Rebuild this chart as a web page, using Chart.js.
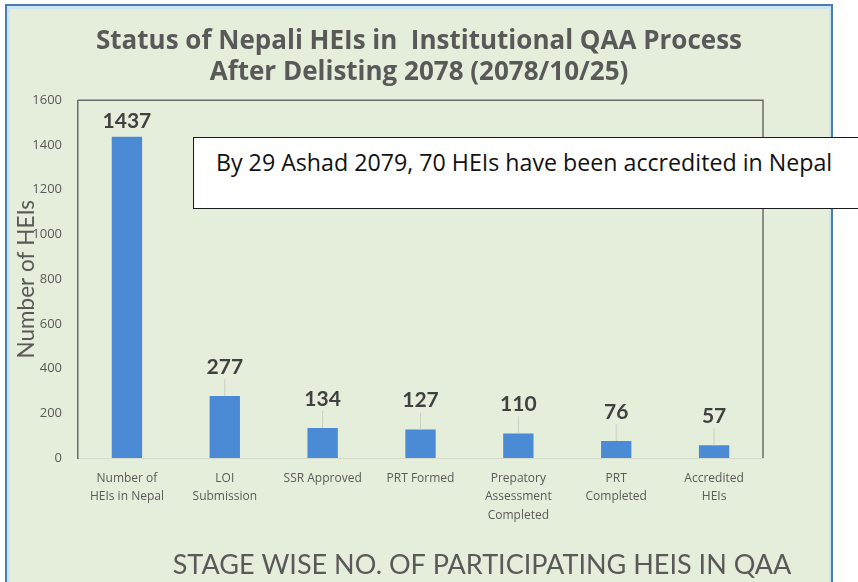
<!DOCTYPE html>
<html>
<head>
<meta charset="utf-8">
<script src="https://cdn.jsdelivr.net/npm/chart.js@4"></script>
<style>
  html, body { margin:0; padding:0; background:#ffffff; width:858px; height:582px; overflow:hidden; }
  #frame { position:absolute; left:5px; top:4px; width:824px; height:620px;
           border:2px solid #4a7db5; background:#e5eedb;
           box-shadow: inset 3px 3px 0 0 #cfe4f3, inset -2px 0 0 0 #cfe4f3; }
  #wrap { position:absolute; left:0; top:0; width:858px; height:582px; }
  #note { position:absolute; left:193px; top:137px; width:680px; height:72px;
          background:#ffffff; border:1.5px solid #1a1a1a; box-sizing:border-box;
          font-family:"Open Sans", Lato, sans-serif; font-size:23.2px; line-height:31px; color:#111;
          padding:9px 0 0 22px; white-space:nowrap; }
</style>
</head>
<body>
<div id="frame"></div>
<div id="wrap"><canvas id="c"></canvas></div>
<div id="note">By 29 Ashad 2079, 70 HEIs have been accredited in Nepal</div>
<script>
const categories = [
  ["Number of", "HEIs in Nepal"],
  ["LOI", "Submission"],
  "SSR Approved",
  "PRT Formed",
  ["Prepatory", "Assessment", "Completed"],
  ["PRT", "Completed"],
  ["Accredited", "HEIs"]
];
const values = [1437, 277, 134, 127, 110, 76, 57];
const titleLines = ["Status of Nepali HEIs in  Institutional QAA Process", "After Delisting 2078 (2078/10/25)"];
const yTitle = "Number of HEIs";
const bottomTitle = "STAGE WISE NO. OF PARTICIPATING HEIS IN QAA";
const yTicks = [0, 200, 400, 600, 800, 1000, 1200, 1400, 1600];

const GRAY = "#595959";
const FONT = "Lato, 'Open Sans', sans-serif";
const OFONT = "'Open Sans', Lato, sans-serif";

const extras = {
  id: 'extras',
  afterDatasetsDraw(chart) {
    const ctx = chart.ctx;
    const a = chart.chartArea;
    const meta = chart.getDatasetMeta(0);
    ctx.save();
    // plot-area frame (top & right)
    ctx.strokeStyle = "#6b6b6b";
    ctx.lineWidth = 1.5;
    ctx.beginPath();
    ctx.moveTo(a.left, a.top); ctx.lineTo(a.right, a.top); ctx.lineTo(a.right, a.bottom);
    ctx.stroke();
    // data labels with leader lines
    ctx.font = "bold 21px " + FONT;
    ctx.textAlign = "center";
    ctx.textBaseline = "middle";
    meta.data.forEach((bar, i) => {
      const ly = Math.max(bar.y - 29, a.top + 21);
      if (bar.y - ly > 22) {
        ctx.strokeStyle = "#c9cdc2";
        ctx.lineWidth = 1;
        ctx.beginPath();
        ctx.moveTo(bar.x, ly + 12); ctx.lineTo(bar.x, bar.y);
        ctx.stroke();
      }
      ctx.fillStyle = "#404040";
      ctx.fillText(String(values[i]), bar.x, ly);
    });
    // y-axis title
    ctx.fillStyle = GRAY;
    ctx.font = "22.5px " + FONT;
    ctx.translate(27, (a.top + a.bottom) / 2);
    ctx.rotate(-Math.PI / 2);
    ctx.fillText(yTitle, 0, 0);
    ctx.restore();
    // bottom title
    ctx.save();
    ctx.fillStyle = GRAY;
    ctx.font = "27px " + FONT;
    ctx.textAlign = "center";
    ctx.textBaseline = "middle";
    ctx.fillText(bottomTitle, 482, 565);
    ctx.restore();
  }
};

new Chart(document.getElementById('c'), {
  type: 'bar',
  data: {
    labels: categories,
    datasets: [{
      data: values,
      backgroundColor: "#4b8bd5",
      borderWidth: 0,
      barPercentage: 0.31,
      categoryPercentage: 1
    }]
  },
  options: {
    responsive: true,
    maintainAspectRatio: false,
    animation: false,
    events: [],
    layout: { padding: { left: 0, right: 20, top: 0, bottom: 0 } },
    plugins: {
      legend: { display: false },
      tooltip: { enabled: false },
      title: {
        display: true,
        text: titleLines,
        color: GRAY,
        font: { family: OFONT, size: 26, weight: 'bold', lineHeight: 1.16 },
        padding: { top: 27, bottom: 13 }
      }
    },
    scales: {
      x: {
        grid: { display: false, drawTicks: false },
        border: { display: true, color: "#d6dccd", width: 1 },
        ticks: { color: GRAY, font: { family: OFONT, size: 12, lineHeight: 1.55 }, padding: 11, maxRotation: 0, autoSkip: false },
        afterFit(s) { s.height = 124; }
      },
      y: {
        min: 0, max: 1600,
        afterBuildTicks(s) { s.ticks = yTicks.map(v => ({ value: v })); },
        grid: { display: false, drawTicks: false },
        border: { display: true, color: "#6b6b6b", width: 1.5 },
        ticks: { color: GRAY, font: { family: OFONT, size: 13 }, padding: 16, callback: (v) => String(v) },
        afterFit(s) { s.width = 78; }
      },
      y2: {
        position: 'right',
        display: true,
        grid: { display: false, drawTicks: false },
        border: { display: false },
        ticks: { display: false },
        afterFit(s) { s.width = 75; }
      }
    }
  },
  plugins: [extras]
});
</script>
</body>
</html>
